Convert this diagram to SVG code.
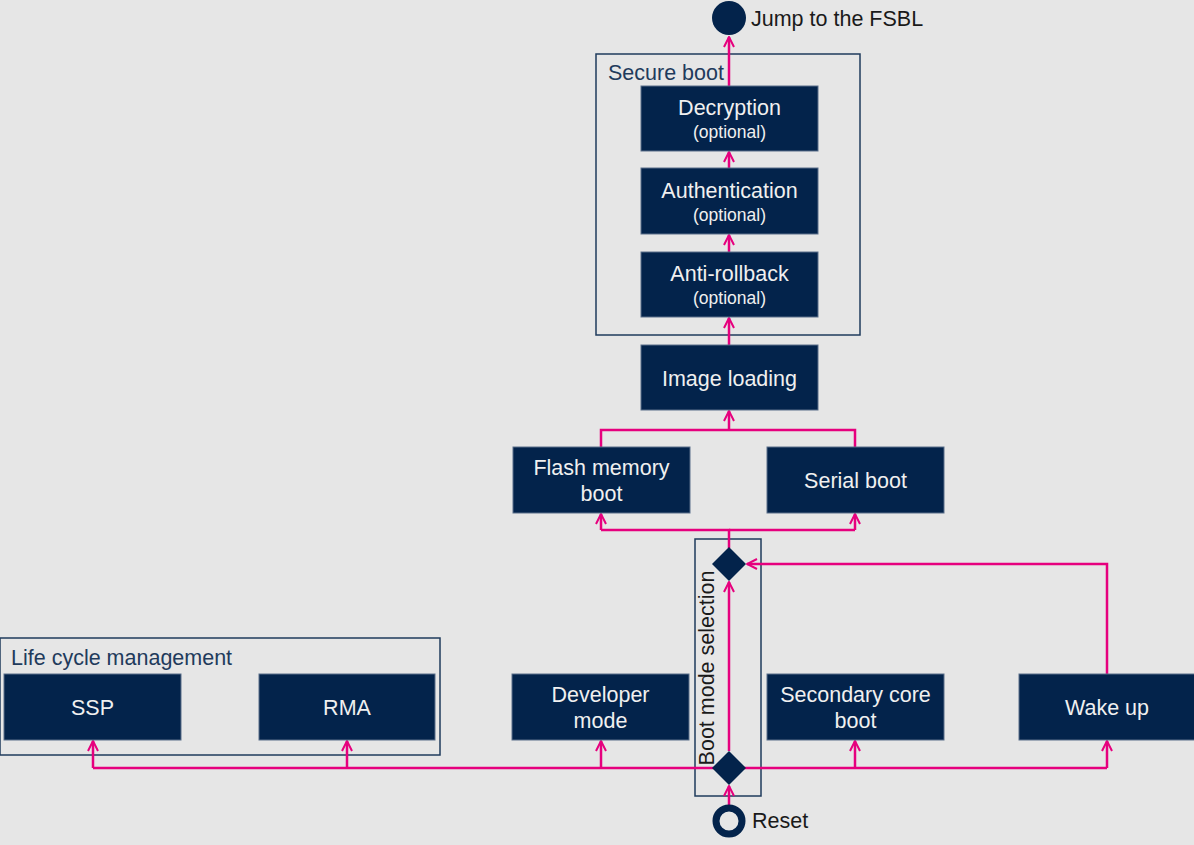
<svg xmlns="http://www.w3.org/2000/svg" width="1194" height="845" viewBox="0 0 1194 845">
<defs>
<marker id="arr" viewBox="0 0 12 12" refX="11" refY="6" markerWidth="12" markerHeight="12" markerUnits="userSpaceOnUse" orient="auto">
<path d="M1,1 L11,6 L1,11" fill="none" stroke="#e6007e" stroke-width="2"/>
</marker>
<style>
.node{fill:#03234b;stroke:#5a6f8a;stroke-width:1}
.nt{font-family:"Liberation Sans",Arial,sans-serif;font-size:21.5px;fill:#f0f0f0;text-anchor:middle}
.ns{font-family:"Liberation Sans",Arial,sans-serif;font-size:17.5px;fill:#f0f0f0;text-anchor:middle}
.grp{fill:none;stroke:#1f3b5c;stroke-width:1.5}
.gl{font-family:"Liberation Sans",Arial,sans-serif;font-size:21.5px;fill:#1f3b5c}
.lbl{font-family:"Liberation Sans",Arial,sans-serif;font-size:21.5px;fill:#1a1a1a}
.c{fill:none;stroke:#e6007e;stroke-width:2.5}
.ca{fill:none;stroke:#e6007e;stroke-width:2.5;marker-end:url(#arr)}
</style>
</defs>
<rect x="0" y="0" width="1194" height="845" fill="#e6e6e6"/>

<g id="secure-boot">
<rect class="grp" x="596" y="54" width="264" height="281"/>
<text class="gl" x="608" y="80">Secure boot</text>
</g>
<g id="life-cycle">
<rect class="grp" x="0" y="638" width="440" height="117"/>
<text class="gl" x="11" y="665">Life cycle management</text>
</g>
<g id="boot-mode-selection">
<rect class="grp" x="695" y="539" width="66" height="257"/>
<text class="lbl" transform="translate(714,668) rotate(-90)" text-anchor="middle">Boot mode selection</text>
</g>

<g id="connectors">
<path class="ca" d="M729,86 L729,37"/>
<path class="ca" d="M729,168 L729,152"/>
<path class="ca" d="M729,252 L729,235"/>
<path class="ca" d="M729,345 L729,318"/>
<path class="c" d="M601,447 L601,430 L855,430 L855,447"/>
<path class="ca" d="M729,430 L729,411"/>
<path class="c" d="M729,548 L729,530 L601,530"/>
<path class="c" d="M729,530 L855,530"/>
<path class="ca" d="M601,530 L601,514"/>
<path class="ca" d="M855,530 L855,514"/>
<path class="ca" d="M729,751 L729,582"/>
<path class="ca" d="M1107,674 L1107,564 L747,564"/>
<path class="ca" d="M729,807 L729,786"/>
<path class="c" d="M93,768 L1107,768"/>
<path class="ca" d="M93,768 L93,741"/>
<path class="ca" d="M347,768 L347,741"/>
<path class="ca" d="M601,768 L601,741"/>
<path class="ca" d="M855,768 L855,741"/>
<path class="ca" d="M1107,768 L1107,741"/>
</g>

<g id="jump">
<circle cx="729" cy="18" r="17" fill="#03234b"/>
<text class="lbl" x="751" y="26">Jump to the FSBL</text>
</g>
<g id="decryption">
<rect class="node" x="641" y="86" width="177" height="65"/>
<text class="nt" x="729.5" y="115">Decryption</text>
<text class="ns" x="729.5" y="138">(optional)</text>
</g>
<g id="authentication">
<rect class="node" x="641" y="168" width="177" height="66"/>
<text class="nt" x="729.5" y="198">Authentication</text>
<text class="ns" x="729.5" y="221">(optional)</text>
</g>
<g id="anti-rollback">
<rect class="node" x="641" y="252" width="177" height="65"/>
<text class="nt" x="729.5" y="281">Anti-rollback</text>
<text class="ns" x="729.5" y="304">(optional)</text>
</g>
<g id="image-loading">
<rect class="node" x="641" y="345" width="177" height="65"/>
<text class="nt" x="729.5" y="386">Image loading</text>
</g>
<g id="flash-boot">
<rect class="node" x="513" y="447" width="177" height="66"/>
<text class="nt" x="601.5" y="475">Flash memory</text>
<text class="nt" x="601.5" y="501">boot</text>
</g>
<g id="serial-boot">
<rect class="node" x="767" y="447" width="177" height="66"/>
<text class="nt" x="855.5" y="488">Serial boot</text>
</g>
<g id="diamond-top">
<path d="M729,547 L746,564 L729,581 L712,564 Z" fill="#03234b"/>
</g>
<g id="diamond-bottom">
<path d="M729,751 L746,768 L729,785 L712,768 Z" fill="#03234b"/>
</g>
<g id="reset">
<circle cx="729" cy="821" r="13" fill="#e6e6e6" stroke="#03234b" stroke-width="7"/>
<text class="lbl" x="752" y="828">Reset</text>
</g>
<g id="ssp">
<rect class="node" x="4" y="674" width="177" height="66"/>
<text class="nt" x="92.5" y="715">SSP</text>
</g>
<g id="rma">
<rect class="node" x="259" y="674" width="176" height="66"/>
<text class="nt" x="347" y="715">RMA</text>
</g>
<g id="developer">
<rect class="node" x="512" y="674" width="177" height="66"/>
<text class="nt" x="600.5" y="702">Developer</text>
<text class="nt" x="600.5" y="728">mode</text>
</g>
<g id="secondary">
<rect class="node" x="767" y="674" width="177" height="66"/>
<text class="nt" x="855.5" y="702">Secondary core</text>
<text class="nt" x="855.5" y="728">boot</text>
</g>
<g id="wakeup">
<rect class="node" x="1019" y="674" width="176" height="66"/>
<text class="nt" x="1107" y="715">Wake up</text>
</g>
</svg>
